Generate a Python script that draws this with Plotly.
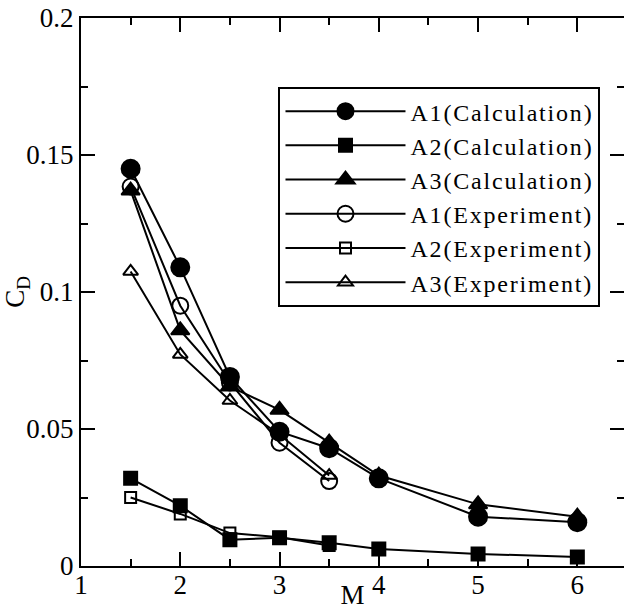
import plotly.graph_objects as go

# Data
M_calc = [1.5, 2, 2.5, 3, 3.5, 4, 5, 6]
A1_calc = [0.145, 0.109, 0.069, 0.049, 0.043, 0.032, 0.018, 0.016]
A2_calc = [0.032, 0.022, 0.0096, 0.0103, 0.0085, 0.0062, 0.0044, 0.0033]
A3_calc = [0.137, 0.086, 0.0655, 0.057, 0.045, 0.033, 0.0225, 0.018]

M_exp = [1.5, 2, 2.5, 3, 3.5]
A1_exp = [0.1385, 0.095, 0.067, 0.045, 0.031]
A2_exp = [0.025, 0.019, 0.012, 0.0105, 0.0075]
A3_exp = [0.1075, 0.0772, 0.0604, 0.048, 0.033]

series = [
    ("A1(Calculation)", M_calc, A1_calc, "circle", 18),
    ("A2(Calculation)", M_calc, A2_calc, "square", 13),
    ("A3(Calculation)", M_calc, A3_calc, "triangle-up", 16),
    ("A1(Experiment)", M_exp, A1_exp, "circle-open", 16),
    ("A2(Experiment)", M_exp, A2_exp, "square-open", 11),
    ("A3(Experiment)", M_exp, A3_exp, "triangle-up-open", 13),
]

FONT = "Liberation Serif, Times New Roman, serif"

fig = go.Figure()
for name, xs, ys, sym, size in series:
    fig.add_trace(go.Scatter(
        x=xs, y=ys, mode="lines+markers",
        name='<span style="letter-spacing:1.8px">' + name + '</span>',
        line=dict(color="black", width=2),
        marker=dict(symbol=sym, size=size, color="black",
                    line=dict(color="black", width=2)),
    ))

axis_common = dict(
    showline=True, linecolor="black", linewidth=2, mirror="allticks",
    ticks="inside", ticklen=14, tickwidth=2, tickcolor="black",
    showgrid=False, zeroline=False,
    tickfont=dict(family=FONT, size=27, color="black"),
)

fig.update_layout(
    width=624, height=610,
    margin=dict(l=81, r=0, t=18, b=44),
    plot_bgcolor="white", paper_bgcolor="white",
    font=dict(family=FONT, color="black"),
    xaxis=dict(
        range=[1, 6.47], tick0=1, dtick=1,
        minor=dict(ticks="inside", dtick=0.5, ticklen=7, tickwidth=2, tickcolor="black"),
        title=dict(text="M", font=dict(family=FONT, size=27), standoff=6),
        ticklabelstandoff=-6,
        automargin=False,
        **axis_common,
    ),
    yaxis=dict(
        range=[0, 0.2], tick0=0, dtick=0.05,
        minor=dict(ticks="inside", dtick=0.025, ticklen=7, tickwidth=2, tickcolor="black"),
        title=dict(text="C<sub>D</sub>", font=dict(family=FONT, size=27), standoff=4),
        automargin=False,
        **axis_common,
    ),
    legend=dict(
        x=0.3637, y=0.874, xanchor="left", yanchor="top",
        bordercolor="black", borderwidth=2, bgcolor="white",
        font=dict(family=FONT, size=24, color="black"),
        itemwidth=120,
        tracegroupgap=0,
    ),
    showlegend=True,
)

fig.write_html("out.html")
